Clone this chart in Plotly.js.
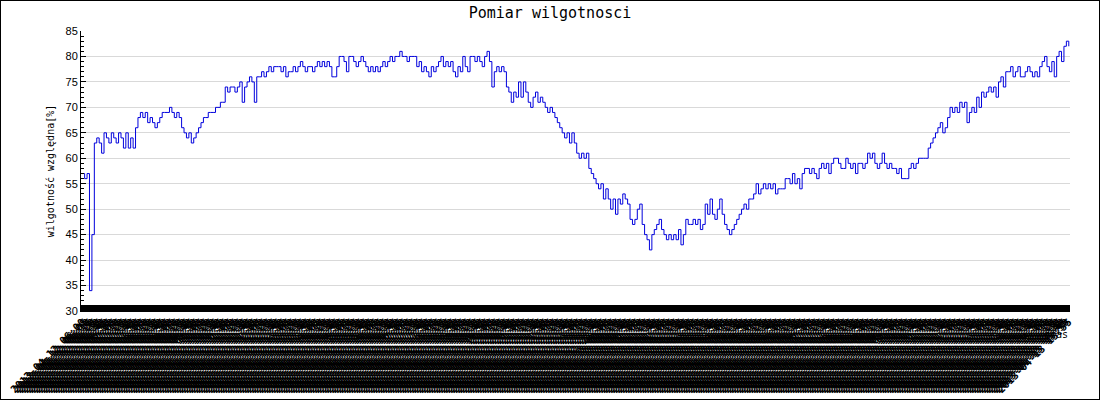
<!DOCTYPE html>
<html>
<head>
<meta charset="utf-8">
<script src="https://cdn.plot.ly/plotly-3.0.1.min.js"></script>
<style>
  html, body { margin: 0; padding: 0; background: #fff; }
  #chart { width: 1098px; height: 398px; border: 1px solid #000; }
</style>
</head>
<body>
<div id="chart"></div>
<script>
// Humidity readings (relative humidity, %), in order
const humidityPart1 = [57,56,57,34,45,63,
  64,63,61,65,64,63,65,64,63,65,64,62,65,62,64,62,
  66,68,69,68,69,67,68,67,66,67,68,
  69,69,69,70,69,68,69,68,
  66,65,64,65,63,64,65,
  66,67,68,68,69,69,69,70,70,71,71,
  74,73,74,74,73,74,75,71,74,75,76,75,71,76,76,77,76,77,78,77,78,78];
const humidityPart2 = [78,77,78,76,77,77,78,77,78,79,78,77,78,78,77,78,79,
  78,79,78,79,78,76,76,78,80,80,79,77,80,80,79,78,79,80,79,78,
  77,78,77,78,77,78,79,78,79,80,79,80,80,81,80,80,79,80,80,80,78,
  79,77,78,77,76,78,77,78,79,80,78,79,78,79,77,76,78,77,80,78,77,80,80,79];
const humidityPart3 = [80,79,78,80,81,79,74,77,78,77,78,77,
  74,73,71,73,72,75,72,75,73,71,70,72,73,71,72,
  71,70,69,70,69,68,67,66,65,64,65,63,65,63,
  61,60,61,60,61,58,57,56,55,54,55,52,54,52,50,52,49,
  52,51,53,52,51,48,47,48,50,51,47,45,44,42,45,46,47,48,46,45,44,45,44];
const humidityPart4 = [45,44,46,43,45,48,47,47,48,47,48,46,47,
  51,49,52,49,48,50,52,49,47,46,45,46,47,48,49,50,
  51,50,52,52,53,55,53,54,55,54,55,54,55,53,54,54,54,56,
  56,55,57,55,56,54,57,58,58,57,58,57,56,58,59,58,59,57,
  59,60,60,59,58,58,60,59,58,59,57,59,59,58,59,61,60];
const humidityPart5 = [61,59,58,59,61,59,58,59,58,58,57,58,56,56,56,
  58,59,58,59,60,60,60,60,62,63,64,65,66,67,65,66,
  68,70,69,70,69,71,70,71,67,69,70,69,72,70,73,72,73,
  74,73,74,72,75,76,74,77,77,78,76,77,78,76,76,77,
  78,77,76,77,76,78,79,80,78,77,79,76,80,81,79,82,83,82];
const humidity = humidityPart1.concat(humidityPart2, humidityPart3, humidityPart4, humidityPart5);

// Measurement time labels (unreadable in the reference; one reading every 5 minutes)
const startTime = '2013-04-12 06:00';
const stepMinutes = 5;
const timeLabels = [];
(function () {
  const p = (n) => String(n).padStart(2, '0');
  const t0 = new Date(startTime.replace(' ', 'T') + ':00Z').getTime();
  for (let i = 0; i < humidity.length; i++) {
    const d = new Date(t0 + i * stepMinutes * 60000);
    timeLabels.push(d.getUTCFullYear() + '-' + p(d.getUTCMonth() + 1) + '-' + p(d.getUTCDate()) +
      ' ' + p(d.getUTCHours()) + ':' + p(d.getUTCMinutes()));
  }
})();

const chartTitle = 'Pomiar wilgotnosci';
const yTitle = 'wilgotność względna[%]';
const xTitle = 'czas';

const trace = {
  type: 'scatter',
  mode: 'lines',
  x: timeLabels,
  y: humidity,
  line: { color: '#0000dd', width: 1, shape: 'hv' },
  hoverinfo: 'x+y'
};

const mono = 'DejaVu Sans Mono, Liberation Mono, monospace';

const layout = {
  width: 1098,
  height: 398,
  margin: { l: 80, r: 29, t: 30, b: 88, pad: 0 },
  paper_bgcolor: '#ffffff',
  plot_bgcolor: '#ffffff',
  showlegend: false,
  title: {
    text: chartTitle,
    font: { family: mono, size: 15, color: '#000' },
    x: 0.5, xanchor: 'center',
    y: 1 - 12 / 398, yanchor: 'middle'
  },
  xaxis: {
    type: 'category',
    tickmode: 'linear',
    dtick: 1,
    ticks: 'inside',
    ticklen: 6,
    tickwidth: 3,
    tickcolor: '#000',
    showline: true,
    linecolor: '#000',
    linewidth: 1,
    showgrid: false,
    zeroline: false,
    tickangle: -45,
    tickfont: { family: mono, size: 10.4, color: '#000', weight: 'bold' },
    automargin: false,
    range: [-0.5, humidity.length - 0.5]
  },
  yaxis: {
    range: [30, 85],
    dtick: 5,
    tick0: 30,
    ticks: 'inside',
    ticklen: 5,
    tickcolor: '#000',
    showline: true,
    linecolor: '#000',
    linewidth: 1,
    showgrid: true,
    gridcolor: '#d9d9d9',
    gridwidth: 1,
    zeroline: false,
    minor: { dtick: 1, ticks: 'inside', ticklen: 3, tickcolor: '#000', showgrid: false },
    tickfont: { family: 'Liberation Sans, Arial, sans-serif', size: 11, color: '#000' },
    automargin: false,
    title: {
      text: yTitle,
      font: { family: mono, size: 10, color: '#000' },
      standoff: 9
    }
  },
  annotations: [{
    text: xTitle,
    xref: 'paper', yref: 'paper',
    x: 1, y: -0.085,
    xanchor: 'right', yanchor: 'middle',
    showarrow: false,
    font: { family: mono, size: 10, color: '#000' }
  }]
};

Plotly.newPlot('chart', [trace], layout, { displayModeBar: false, staticPlot: true });
</script>
</body>
</html>
